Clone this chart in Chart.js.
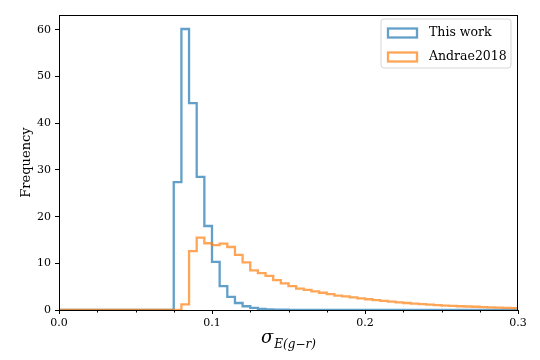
<!DOCTYPE html>
<html>
<head>
<meta charset="utf-8">
<script src="https://cdn.jsdelivr.net/npm/chart.js@4/dist/chart.umd.min.js"></script>
<style>
  html, body { margin: 0; padding: 0; background: #fff; }
  #wrap { width: 540px; height: 360px; }
</style>
</head>
<body>
<div id="wrap"><canvas id="c" width="540" height="360"></canvas></div>
<script>
// ---- data ----
const binEdges = [
  0.000, 0.005, 0.010, 0.015, 0.020, 0.025, 0.030, 0.035, 0.040, 0.045,
  0.050, 0.055, 0.060, 0.065, 0.070, 0.075, 0.080, 0.085, 0.090, 0.095,
  0.100, 0.105, 0.110, 0.115, 0.120, 0.125, 0.130, 0.135, 0.140, 0.145,
  0.150, 0.155, 0.160, 0.165, 0.170, 0.175, 0.180, 0.185, 0.190, 0.195,
  0.200, 0.205, 0.210, 0.215, 0.220, 0.225, 0.230, 0.235, 0.240, 0.245,
  0.250, 0.255, 0.260, 0.265, 0.270, 0.275, 0.280, 0.285, 0.290, 0.295,
  0.300
];
const thisWork = [
  0, 0, 0, 0, 0, 0, 0, 0, 0, 0,
  0, 0, 0, 0, 0, 27.4, 60.2, 44.3, 28.5, 18.0,
  10.3, 5.1, 2.8, 1.5, 0.8, 0.45, 0.25, 0.15, 0.08, 0.05,
  0.03, 0.02, 0, 0, 0, 0, 0, 0, 0, 0,
  0, 0, 0, 0, 0, 0, 0, 0, 0, 0,
  0, 0, 0, 0, 0, 0, 0, 0, 0, 0
];
const andrae2018 = [
  0, 0, 0, 0, 0, 0, 0, 0, 0, 0,
  0, 0, 0, 0, 0, 0, 1.2, 12.6, 15.5, 14.3,
  13.9, 14.2, 13.5, 11.8, 10.2, 8.5, 7.9, 7.3, 6.4, 5.7,
  5.1, 4.6, 4.3, 4.0, 3.7, 3.4, 3.1, 2.9, 2.7, 2.5,
  2.3, 2.1, 1.95, 1.8, 1.65, 1.5, 1.35, 1.25, 1.15, 1.05,
  0.95, 0.9, 0.8, 0.75, 0.7, 0.6, 0.55, 0.5, 0.45, 0.4
];
const seriesNames = ['This work', 'Andrae2018'];
const xTicks = [0.0, 0.1, 0.2, 0.3];
const xMinorTicks = [0.025, 0.05, 0.075, 0.125, 0.15, 0.175, 0.225, 0.25, 0.275];
const yTicks = [0, 10, 20, 30, 40, 50, 60];

const BLUE = 'rgba(31,119,180,0.7)';
const ORANGE = 'rgba(255,127,14,0.7)';
const FONT = "'DejaVu Serif', 'Liberation Serif', serif";

function stepPoints(values) {
  const pts = values.map((v, i) => ({ x: binEdges[i], y: v }));
  pts.push({ x: binEdges[binEdges.length - 1], y: values[values.length - 1] });
  return pts;
}

const framePlugin = {
  id: 'frame',
  afterDatasetsDraw(chart) {
    const { ctx, chartArea: a, scales } = chart;
    ctx.save();
    ctx.strokeStyle = '#000';
    ctx.lineWidth = 1;
    ctx.strokeRect(Math.round(a.left) + 0.5, Math.round(a.top) + 0.5,
                   Math.round(a.right - a.left) - 1, Math.round(a.bottom - a.top));
    // minor x ticks
    const xs = scales.x;
    ctx.beginPath();
    xMinorTicks.forEach(v => {
      const px = Math.round(xs.getPixelForValue(v)) + 0.5;
      ctx.moveTo(px, a.bottom);
      ctx.lineTo(px, a.bottom + 2.5);
    });
    ctx.stroke();
    ctx.restore();
  },
  afterDraw(chart) {
    const { ctx, chartArea: a } = chart;
    ctx.save();
    // x axis title: sigma_{E(g-r)}
    ctx.fillStyle = '#000';
    ctx.textBaseline = 'alphabetic';
    const mainFont = "italic 18px " + FONT;
    const subFont = "italic 12px " + FONT;
    ctx.font = mainFont;
    const w1 = ctx.measureText('σ').width;
    ctx.font = subFont;
    const w2 = ctx.measureText('E(g−r)').width;
    const cx = (a.left + a.right) / 2;
    const x0 = cx - (w1 + w2 + 1) / 2;
    ctx.font = mainFont;
    ctx.fillText('σ', x0, 343);
    ctx.font = subFont;
    ctx.fillText('E(g−r)', x0 + w1 + 1, 348);

    // legend
    const lx = 381, ly = 19, lw = 130, lh = 49, r = 3;
    ctx.beginPath();
    ctx.moveTo(lx + r, ly);
    ctx.lineTo(lx + lw - r, ly);
    ctx.quadraticCurveTo(lx + lw, ly, lx + lw, ly + r);
    ctx.lineTo(lx + lw, ly + lh - r);
    ctx.quadraticCurveTo(lx + lw, ly + lh, lx + lw - r, ly + lh);
    ctx.lineTo(lx + r, ly + lh);
    ctx.quadraticCurveTo(lx, ly + lh, lx, ly + lh - r);
    ctx.lineTo(lx, ly + r);
    ctx.quadraticCurveTo(lx, ly, lx + r, ly);
    ctx.closePath();
    ctx.fillStyle = 'rgba(255,255,255,0.8)';
    ctx.fill();
    ctx.strokeStyle = '#d6d6d6';
    ctx.lineWidth = 1;
    ctx.stroke();

    const colors = [BLUE, ORANGE];
    ctx.font = "12.5px " + FONT;
    ctx.textBaseline = 'middle';
    seriesNames.forEach((name, i) => {
      const cy = 33 + i * 24;
      ctx.strokeStyle = colors[i];
      ctx.lineWidth = 2.3;
      ctx.strokeRect(388, cy - 4.5, 29, 9);
      ctx.fillStyle = '#000';
      ctx.fillText(name, 429, cy);
    });
    ctx.restore();
  }
};

const chart = new Chart(document.getElementById('c'), {
  type: 'line',
  data: {
    datasets: [
      { label: seriesNames[0], data: stepPoints(thisWork), borderColor: BLUE,
        borderWidth: 2.3, stepped: 'before', pointRadius: 0, fill: false, order: 1 },
      { label: seriesNames[1], data: stepPoints(andrae2018), borderColor: ORANGE,
        borderWidth: 2.3, stepped: 'before', pointRadius: 0, fill: false, order: 0 }
    ]
  },
  options: {
    responsive: false,
    animation: false,
    devicePixelRatio: 1,
    layout: { padding: { top: 15, right: 22, left: 0, bottom: 0 } },
    plugins: {
      legend: { display: false },
      tooltip: { enabled: false }
    },
    scales: {
      x: {
        type: 'linear',
        min: 0, max: 0.3,
        afterBuildTicks(scale) { scale.ticks = xTicks.map(v => ({ value: v })); },
        afterFit(scale) { scale.height = 50; },
        grid: { drawOnChartArea: false, drawTicks: true, tickLength: 4, color: '#000', lineWidth: 1 },
        border: { display: true, color: '#000', width: 1 },
        ticks: {
          color: '#000', padding: 3, maxRotation: 0,
          font: { family: FONT, size: 11 },
          callback: v => Number(v).toFixed(1)
        }
      },
      y: {
        type: 'linear',
        min: 0, max: 63.2,
        afterBuildTicks(scale) { scale.ticks = yTicks.map(v => ({ value: v })); },
        afterFit(scale) { scale.width = 59; },
        grid: { drawOnChartArea: false, drawTicks: true, tickLength: 4, color: '#000', lineWidth: 1 },
        border: { display: true, color: '#000', width: 1 },
        ticks: {
          color: '#000', padding: 4,
          font: { family: FONT, size: 11 },
          callback: v => String(v)
        },
        title: {
          display: true, text: 'Frequency', color: '#000',
          font: { family: FONT, size: 13 },
          padding: { top: 19, bottom: 0 }
        }
      }
    }
  },
  plugins: [framePlugin]
});
</script>
</body>
</html>
